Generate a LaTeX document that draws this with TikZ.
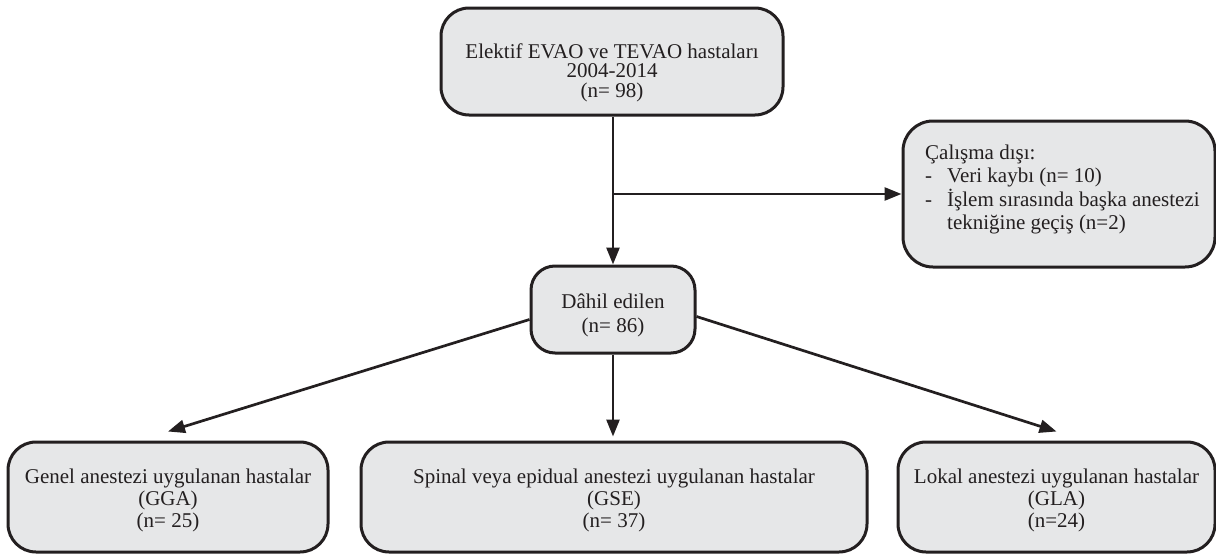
\documentclass[tikz,border=0pt]{standalone}
\usepackage{fontspec}
\setmainfont{Liberation Serif}
\usetikzlibrary{arrows.meta,calc}
\definecolor{boxfill}{HTML}{E6E7E8}
\definecolor{ink}{HTML}{231F20}
\newcommand{\firstln}{\rule{0pt}{20pt}}
\begin{document}
\begin{tikzpicture}[x=1pt,y=-1pt,
  box/.style={draw=ink, line width=3pt, fill=boxfill, rounded corners=28pt, inner sep=0pt},
  txt/.style={anchor=north, inner sep=0pt, align=center, text=ink},
  arr/.style={draw=ink, line width=2.7pt, -{Triangle[length=17pt,width=13pt]}}]
\useasboundingbox (0,0) rectangle (1216,554);
% boxes
\node[box, minimum width=342pt, minimum height=107pt] (top) at (612,61.5) {};
\node[box, minimum width=164pt, minimum height=87pt, rounded corners=24pt] (dahil) at (613,309.5) {};
\node[box, minimum width=312pt, minimum height=146pt, rounded corners=30pt] (excl) at (1059,194) {};
\node[box, minimum width=320pt, minimum height=110pt] (gga) at (168,497) {};
\node[box, minimum width=506pt, minimum height=110pt] (gse) at (614,497) {};
\node[box, minimum width=317pt, minimum height=110pt] (gla) at (1056.5,497) {};
% texts
\node[txt, font=\fontsize{21}{19.5}\selectfont] (toptxt) at (612,38) {\firstln Elektif EVAO ve TEVAO hastaları\\2004-2014\\(n= 98)};
\node[txt, font=\fontsize{21}{24}\selectfont] (dahiltxt) at (613,288) {\firstln Dâhil edilen\\(n= 86)};
\node[txt, anchor=north west, align=left, font=\fontsize{21}{23.5}\selectfont] (excltxt) at (925,139) {\firstln Çalışma dışı:\\\makebox[22pt][l]{-}Veri kaybı (n= 10)\\\makebox[22pt][l]{-}İşlem sırasında başka anestezi\\\hspace*{22pt}tekniğine geçiş (n=2)};
\node[txt, font=\fontsize{21}{22}\selectfont] (ggatxt) at (168,463) {\firstln Genel anestezi uygulanan hastalar\\(GGA)\\(n= 25)};
\node[txt, font=\fontsize{21}{22}\selectfont] (gsetxt) at (614,463) {\firstln Spinal veya epidual anestezi uygulanan hastalar\\(GSE)\\(n= 37)};
\node[txt, font=\fontsize{21}{22}\selectfont] (glatxt) at (1056.5,463) {\firstln Lokal anestezi uygulanan hastalar\\(GLA)\\(n=24)};
% connectors
\coordinate (branch) at (613,194);
\draw[arr] (top.south -| dahil.north) -- (dahil.north);
\draw[arr] (branch) -- (excl.west);
\draw[arr] ($(dahil.west)+(0,10)$) -- ($(gga.north)+(0,-9)$);
\draw[arr] (dahil.south) -- ($(gse.north)+(-1,-4)$);
\draw[arr] ($(dahil.east)+(0,7)$) -- ($(gla.north)+(0,-9)$);
\end{tikzpicture}
\end{document}
